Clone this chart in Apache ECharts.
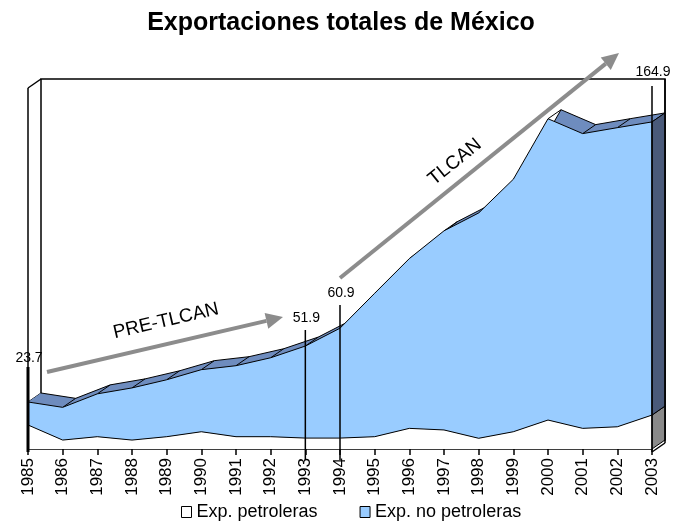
<!DOCTYPE html>
<html>
<head>
<meta charset="utf-8">
<script src="https://cdn.jsdelivr.net/npm/echarts@6/dist/echarts.min.js"></script>
<style>html,body{margin:0;padding:0;background:#fff}#c{width:682px;height:531px}</style>
</head>
<body>
<div id="c"></div>
<script>
// ---- data (billions of USD) ----
const years = ['1985','1986','1987','1988','1989','1990','1991','1992','1993','1994','1995','1996','1997','1998','1999','2000','2001','2002','2003'];
const petroleras   = [12.1, 4.5, 6.2, 4.5, 6.2, 8.7, 6.2, 6.2, 5.5, 5.5, 6.2, 10.4, 9.6, 5.4, 8.7, 14.6, 10.4, 11.2, 17.1];
const noPetroleras = [11.6, 16.5, 21.6, 26.3, 28.7, 31.3, 35.8, 39.8, 46.4, 55.4, 72.3, 85.6, 100.4, 113.6, 127.3, 151.9, 148.6, 150.8, 147.8];
const labeledYears = ['1985','1993','1994','2003'];
const seriesNames = ['Exp. petroleras', 'Exp. no petroleras'];
const titleText = 'Exportaciones totales de México';
const periodLabels = ['PRE-TLCAN', 'TLCAN'];

// ---- style / layout ----
const FONT = 'Liberation Sans';
const LIGHT = '#99ccff', DARK = '#6e8cbe', CAP = '#4a5a7a', CAPGRAY = '#8a8a8a', ARROW = '#8c8c8c';
const DX = 13, DY = 9;           // 3D depth offset
const YMAX = 182;
const FRONT = {left: 28, top: 88, width: 624, height: 361};
const BACK = {left: FRONT.left + DX, top: FRONT.top - DY, width: FRONT.width, height: FRONT.height};
// label placement (pixel y of label centre, top of leader line, bottom of leader line, line width)
const labelLayout = {
  '1985': {ly: 358, top: 367, bottom: 452, w: 3},
  '1993': {ly: 318, top: 330, bottom: 460, w: 1.5},
  '1994': {ly: 293, top: 305, bottom: 460, w: 1.5},
  '2003': {ly: 72,  top: 86,  bottom: 452, w: 1.5}
};
const arrows = [
  {from: [47, 372], to: [283, 317], text: periodLabels[0], tx: 166, ty: 321, rot: 13.1},
  {from: [340, 278], to: [619, 53], text: periodLabels[1], tx: 455, ty: 162, rot: 39}
];

const totals = petroleras.map((v, i) => +(v + noPetroleras[i]).toFixed(1));

const chart = echarts.init(document.getElementById('c'), null, {renderer: 'canvas'});

chart.setOption({
  animation: false,
  backgroundColor: '#fff',
  title: {
    text: titleText, left: 'center', top: 6,
    textStyle: {fontSize: 25, fontWeight: 'bold', fontFamily: FONT, color: '#000'}
  },
  legend: {
    data: seriesNames, left: 176, bottom: 5, icon: 'rect',
    itemWidth: 10, itemHeight: 11, itemGap: 42,
    itemStyle: {borderColor: '#000', borderWidth: 1},
    textStyle: {fontSize: 18, color: '#000', fontFamily: FONT}
  },
  grid: [
    Object.assign({}, FRONT),
    Object.assign({show: true, borderColor: '#000', borderWidth: 1.5, backgroundColor: 'transparent'}, BACK)
  ],
  xAxis: [
    {gridIndex: 0, type: 'category', data: years, boundaryGap: false, offset: 3,
     axisLine: {lineStyle: {color: '#000', width: 1.5}},
     axisTick: {length: 6, lineStyle: {color: '#000', width: 1.5}},
     axisLabel: {rotate: 90, interval: 0, fontSize: 17, color: '#000', fontFamily: FONT, margin: 6},
     splitLine: {show: false}},
    {gridIndex: 1, type: 'category', data: years, boundaryGap: false, show: false}
  ],
  yAxis: [
    {gridIndex: 0, type: 'value', min: 0, max: YMAX, show: false},
    {gridIndex: 1, type: 'value', min: 0, max: YMAX, show: false}
  ],
  series: [
    {name: 'back1', type: 'line', xAxisIndex: 1, yAxisIndex: 1, stack: 'b', data: petroleras,
     symbol: 'none', lineStyle: {width: 0}, areaStyle: {color: DARK, opacity: 1}, z: 1, silent: true},
    {name: 'back2', type: 'line', xAxisIndex: 1, yAxisIndex: 1, stack: 'b', data: noPetroleras,
     symbol: 'none', lineStyle: {color: '#000', width: 1}, areaStyle: {color: DARK, opacity: 1}, z: 1, silent: true},
    {name: seriesNames[0], type: 'line', xAxisIndex: 0, yAxisIndex: 0, stack: 'f', data: petroleras,
     symbol: 'none', itemStyle: {color: '#ffffff'}, lineStyle: {color: '#000', width: 1},
     areaStyle: {color: '#ffffff', opacity: 1}, z: 3},
    {name: seriesNames[1], type: 'line', xAxisIndex: 0, yAxisIndex: 0, stack: 'f', data: noPetroleras,
     symbol: 'none', itemStyle: {color: LIGHT}, lineStyle: {color: '#000', width: 1},
     areaStyle: {color: LIGHT, opacity: 1}, z: 3}
  ]
});

// ---- decorations derived from the scales ----
const fp = (i, v) => chart.convertToPixel({gridIndex: 0}, [i, v]);
const bp = (i, v) => chart.convertToPixel({gridIndex: 1}, [i, v]);
const n = years.length, last = n - 1;
const g = [];
const line = (a, b, w, color, z) => g.push({type: 'line', z: z, silent: true,
  shape: {x1: a[0], y1: a[1], x2: b[0], y2: b[1]}, style: {stroke: color || '#000', lineWidth: w}});

// connectors of the top surface (hidden behind front face where not visible)
for (let i = 0; i < n; i++) line(fp(i, totals[i]), bp(i, totals[i]), 1, '#000', 2);
// left piece of the top surface
{
  const f0 = fp(0, totals[0]), f1 = fp(1, totals[1]), b0 = bp(0, totals[0]);
  const t = (b0[0] - f0[0]) / (f1[0] - f0[0]);
  const mid = [b0[0], f0[1] + t * (f1[1] - f0[1])];
  g.push({type: 'polygon', z: 2, silent: true, shape: {points: [f0, b0, mid]}, style: {fill: DARK, stroke: null}});
}
// right end cap
g.push({type: 'polygon', z: 5, silent: true,
  shape: {points: [fp(last, 0), fp(last, petroleras[last]), bp(last, petroleras[last]), bp(last, 0)]},
  style: {fill: CAPGRAY, stroke: '#000', lineWidth: 1}});
g.push({type: 'polygon', z: 5, silent: true,
  shape: {points: [fp(last, petroleras[last]), fp(last, totals[last]), bp(last, totals[last]), bp(last, petroleras[last])]},
  style: {fill: CAP, stroke: '#000', lineWidth: 1}});
// frame: front-left edge, bevels
const fTop = fp(0, YMAX), fBot = fp(0, 0), bTop = bp(0, YMAX);
line([fTop[0], fTop[1]], [fBot[0], fBot[1] + 3], 1.5, '#000', 6);
line(fTop, bTop, 1.5, '#000', 6);
const fr = fp(last, 0), br = bp(last, 0);
line([fr[0], fr[1] + 3], [br[0], br[1] + 3], 1.5, '#000', 6);
line([br[0], bp(last, YMAX)[1]], [br[0], br[1] + 3], 1.5, '#000', 6);

// value labels with leader lines
labeledYears.forEach(y => {
  const i = years.indexOf(y), L = labelLayout[y];
  const x = fp(i, 0)[0];
  line([x, L.top], [x, L.bottom], L.w, '#000', 7);
  g.push({type: 'text', z: 8, silent: true, x: x + 1, y: L.ly,
    style: {text: totals[i].toFixed(1), font: '14px ' + FONT, fill: '#000', align: 'center', verticalAlign: 'middle'}});
});

// period arrows
arrows.forEach(a => {
  const dx = a.to[0] - a.from[0], dy = a.to[1] - a.from[1];
  const len = Math.hypot(dx, dy), ux = dx / len, uy = dy / len;
  const hl = 17, hw = 8;
  const base = [a.to[0] - ux * hl, a.to[1] - uy * hl];
  g.push({type: 'line', z: 9, silent: true, shape: {x1: a.from[0], y1: a.from[1], x2: base[0], y2: base[1]},
    style: {stroke: ARROW, lineWidth: 4}});
  g.push({type: 'polygon', z: 9, silent: true,
    shape: {points: [a.to, [base[0] - uy * hw, base[1] + ux * hw], [base[0] + uy * hw, base[1] - ux * hw]]},
    style: {fill: ARROW}});
  g.push({type: 'text', z: 9, silent: true, x: a.tx, y: a.ty, rotation: a.rot * Math.PI / 180,
    style: {text: a.text, font: '19px ' + FONT, fill: '#000', align: 'center', verticalAlign: 'middle'}});
});

chart.setOption({graphic: g});
</script>
</body>
</html>
